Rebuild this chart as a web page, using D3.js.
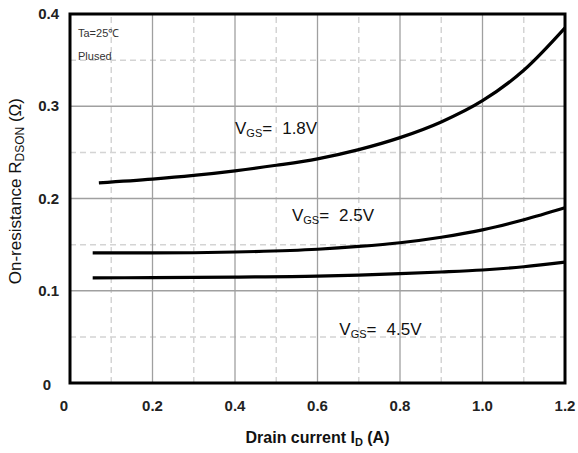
<!DOCTYPE html>
<html>
<head>
<meta charset="utf-8">
<script src="https://cdn.jsdelivr.net/npm/d3@7"></script>
<style>
  body { margin: 0; background: #fff; }
  text { font-family: "Liberation Sans", Arial, sans-serif; }
</style>
</head>
<body>
<script>
// values
const xTicks = [0, 0.2, 0.4, 0.6, 0.8, 1.0, 1.2];
const yTicks = [0, 0.1, 0.2, 0.3, 0.4];
const xMinor = [0.1, 0.3, 0.5, 0.7, 0.9, 1.1];
const yMinor = [0.05, 0.15, 0.25, 0.35];

const vgs18 = [[0.07, 0.217], [0.2, 0.221], [0.3, 0.225], [0.4, 0.230], [0.5, 0.236], [0.6, 0.243],
  [0.7, 0.253], [0.8, 0.266], [0.9, 0.283], [1.0, 0.306], [1.1, 0.339], [1.2, 0.385]];
const vgs25 = [[0.055, 0.141], [0.2, 0.141], [0.4, 0.142], [0.6, 0.145], [0.7, 0.148], [0.8, 0.152],
  [0.9, 0.158], [1.0, 0.166], [1.1, 0.177], [1.2, 0.190]];
const vgs45 = [[0.055, 0.114], [0.2, 0.1142], [0.4, 0.1148], [0.6, 0.1158], [0.7, 0.117], [0.8, 0.1185],
  [0.9, 0.1203], [1.0, 0.1225], [1.1, 0.126], [1.2, 0.131]];

const series = [
  {v: "1.8V", pts: vgs18, lx: 0.4, ly: 0.27},
  {v: "2.5V", pts: vgs25, lx: 0.538, ly: 0.176},
  {v: "4.5V", pts: vgs45, lx: 0.653, ly: 0.052}
];

const width = 578, height = 453;
const margin = {top: 14, right: 13, bottom: 70, left: 70};

const x = d3.scaleLinear().domain([0, 1.2]).range([margin.left, width - margin.right]);
const y = d3.scaleLinear().domain([0, 0.4]).range([height - margin.bottom, margin.top]);

const svg = d3.select("body").append("svg")
    .attr("width", width)
    .attr("height", height);

// dashed minor grid
svg.append("g")
  .selectAll("line")
  .data(xMinor)
  .join("line")
    .attr("x1", x).attr("x2", x)
    .attr("y1", y(0)).attr("y2", y(0.4))
    .attr("stroke", "#d4d4d4")
    .attr("stroke-width", 1.5)
    .attr("stroke-dasharray", "6,4");

svg.append("g")
  .selectAll("line")
  .data(yMinor)
  .join("line")
    .attr("x1", x(0)).attr("x2", x(1.2))
    .attr("y1", y).attr("y2", y)
    .attr("stroke", "#d4d4d4")
    .attr("stroke-width", 1.5)
    .attr("stroke-dasharray", "6,4");

// solid major grid
svg.append("g")
  .selectAll("line")
  .data(xTicks.slice(1, -1))
  .join("line")
    .attr("x1", x).attr("x2", x)
    .attr("y1", y(0)).attr("y2", y(0.4))
    .attr("stroke", "#a0a0a0")
    .attr("stroke-width", 1.3);

svg.append("g")
  .selectAll("line")
  .data(yTicks.slice(1, -1))
  .join("line")
    .attr("x1", x(0)).attr("x2", x(1.2))
    .attr("y1", y).attr("y2", y)
    .attr("stroke", "#a0a0a0")
    .attr("stroke-width", 1.3);

// curves
const line = d3.line()
    .x(d => x(d[0]))
    .y(d => y(d[1]))
    .curve(d3.curveMonotoneX);

svg.append("g")
  .selectAll("path")
  .data(series)
  .join("path")
    .attr("d", d => line(d.pts))
    .attr("fill", "none")
    .attr("stroke", "#000")
    .attr("stroke-width", 3.2);

// frame
svg.append("rect")
    .attr("x", x(0)).attr("y", y(0.4))
    .attr("width", x(1.2) - x(0))
    .attr("height", y(0) - y(0.4))
    .attr("fill", "none")
    .attr("stroke", "#000")
    .attr("stroke-width", 3);

// curve labels
const lab = svg.append("g")
  .selectAll("text")
  .data(series)
  .join("text")
    .attr("x", d => x(d.lx))
    .attr("y", d => y(d.ly))
    .attr("font-size", 17)
    .attr("fill", "#111");
lab.append("tspan").text("V");
lab.append("tspan").attr("font-size", 11).attr("dy", 3).text("GS");
lab.append("tspan").attr("dy", -3).text("=");
lab.append("tspan").attr("dx", 10).text(d => d.v);

// conditions
svg.append("text")
    .attr("x", 78).attr("y", 37)
    .attr("font-size", 11)
    .attr("fill", "#333")
    .text("Ta=25℃");
svg.append("text")
    .attr("x", 78).attr("y", 60)
    .attr("font-size", 11)
    .attr("fill", "#333")
    .text("Plused");

// tick labels
svg.append("g")
  .selectAll("text")
  .data(xTicks)
  .join("text")
    .attr("x", d => x(d) - (d === 0 ? 6 : 0))
    .attr("y", 411)
    .attr("text-anchor", "middle")
    .attr("font-size", 15)
    .attr("font-weight", "bold")
    .attr("fill", "#222")
    .text(d => d === 0 ? "0" : d3.format(".1f")(d));

svg.append("g")
  .selectAll("text")
  .data(yTicks)
  .join("text")
    .attr("x", d => d === 0 ? 51 : 59)
    .attr("y", d => y(d) + (d === 0 ? 7 : 5))
    .attr("text-anchor", "end")
    .attr("font-size", 15)
    .attr("font-weight", "bold")
    .attr("fill", "#222")
    .text(d => d === 0 ? "0" : d3.format(".1f")(d));

// axis titles
const xt = svg.append("text")
    .attr("x", (x(0) + x(1.2)) / 2)
    .attr("y", 443)
    .attr("text-anchor", "middle")
    .attr("font-size", 16)
    .attr("font-weight", "bold")
    .attr("fill", "#111");
xt.append("tspan").text("Drain current I");
xt.append("tspan").attr("font-size", 11).attr("dy", 3).text("D");
xt.append("tspan").attr("dy", -3).text(" (A)");

const yt = svg.append("text")
    .attr("transform", `translate(21,${y(0.208)}) rotate(-90)`)
    .attr("text-anchor", "middle")
    .attr("font-size", 17)
    .attr("fill", "#111");
yt.append("tspan").text("On-resistance R");
yt.append("tspan").attr("font-size", 12).attr("dy", 3).text("DSON");
yt.append("tspan").attr("dy", -3).text(" (Ω)");
</script>
</body>
</html>
